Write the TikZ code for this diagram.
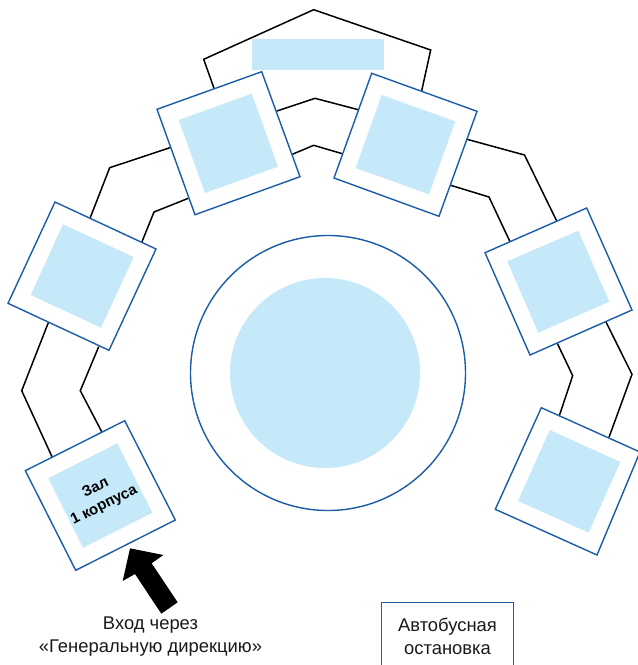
\documentclass[tikz,border=0pt]{standalone}
\usepackage{fontspec}
\setmainfont{Liberation Sans}
\definecolor{hallblue}{HTML}{C6E9FA}
\definecolor{edgeblue}{HTML}{1A5CA8}

\begin{document}
\begin{tikzpicture}[x=1pt,y=-1pt,
    wall/.style={draw=black,line width=1.5pt,line join=miter},
    hallout/.style={draw=edgeblue,line width=1.4pt,fill=white},
    hallin/.style={fill=hallblue},
    caption/.style={align=center,font=\fontsize{18.4}{22.5}\selectfont,text=black!90}]
      \useasboundingbox (0,0) rectangle (638,665);
      \draw [wall] (214,88.3) -- (203.7,59.3) -- (313.7,9.7) -- (430.7,50) -- (421.7,90.7);
      \draw [wall] (277,111) -- (315,98.3) -- (358.3,109.7);
      \draw [wall] (292.3,154.3) -- (313.7,145.3) -- (342.3,153.7);
      \draw [wall] (170,147.7) -- (109.7,167.7) -- (90,218.3);
      \draw [wall] (188.3,198.3) -- (154,212) -- (142,241.7);
      \draw [wall] (48.3,322.7) -- (21.7,390.7) -- (52,456.7);
      \draw [wall] (98.7,346.7) -- (80.3,390.7) -- (101.7,431.7);
      \draw [wall] (467,139.3) -- (524.5,155) -- (556.7,221);
      \draw [wall] (450.7,185.3) -- (489,197) -- (510,241.7);
      \draw [wall] (606,322) -- (632,374.3) -- (609,437.3);
      \draw [wall] (557.3,343.3) -- (572.7,375.7) -- (559.3,415.7);
      \fill [hallin] (252,39) rectangle (384,69.7);
      \draw [hallout] (25.3,470.7) -- (124.7,420.7) -- (175.3,520) -- (75.7,570.3) -- cycle;
      \fill [hallin] (48.3,478.3) -- (117.3,443.3) -- (152.3,512.7) -- (83,547.7) -- cycle;
      \draw [hallout] (55,202) -- (156,249) -- (109,350.3) -- (8,303.3) -- cycle;
      \fill [hallin] (63,224.3) -- (133.7,257) -- (101,327.7) -- (30.7,295) -- cycle;
      \draw [hallout] (157,109.3) -- (261.7,71.7) -- (300,176.7) -- (195,214.7) -- cycle;
      \fill [hallin] (178.7,120) -- (251.7,93.7) -- (278,166.7) -- (205,193) -- cycle;
      \draw [hallout] (371.7,73.3) -- (477,111.3) -- (439,216.3) -- (334,178) -- cycle;
      \fill [hallin] (381.7,95) -- (455.3,121.3) -- (429,194.3) -- (355.7,168) -- cycle;
      \draw [hallout] (586.7,208) -- (632,310) -- (530,355) -- (485,252.7) -- cycle;
      \fill [hallin] (578.3,230.7) -- (609.3,301.7) -- (538.3,332.7) -- (507.3,261.3) -- cycle;
      \draw [hallout] (541.3,407.7) -- (640,452) -- (597,555) -- (495.3,509.3) -- cycle;
      \fill [hallin] (549.7,430) -- (620.3,462) -- (588.7,532.7) -- (518,501) -- cycle;
      \draw [hallout] (328,373) circle [radius=137.5];
      \fill [hallin] (325,373) circle [radius=95];
      \fill [black] (130,548.3) -- (163.3,555) -- (151.7,563.3) -- (177.7,602.3) -- (161.3,613.7) -- (135,574) -- (122.7,581) -- cycle;
      \node (hall) [rotate=26.6,align=center,font=\fontsize{15}{19}\bfseries\selectfont] at (100,497) {Зал\\1 корпуса};
      \node (entry) [caption] at (150.5,636.5) {Вход через\\«Генеральную дирекцию»};
      \node (stop) [caption,draw=edgeblue,line width=1.4pt,minimum width=131.6pt,minimum height=68.4pt,inner sep=0pt] at (447.5,636.5) {Автобусная\\остановка};
    \end{tikzpicture}
\end{document}
